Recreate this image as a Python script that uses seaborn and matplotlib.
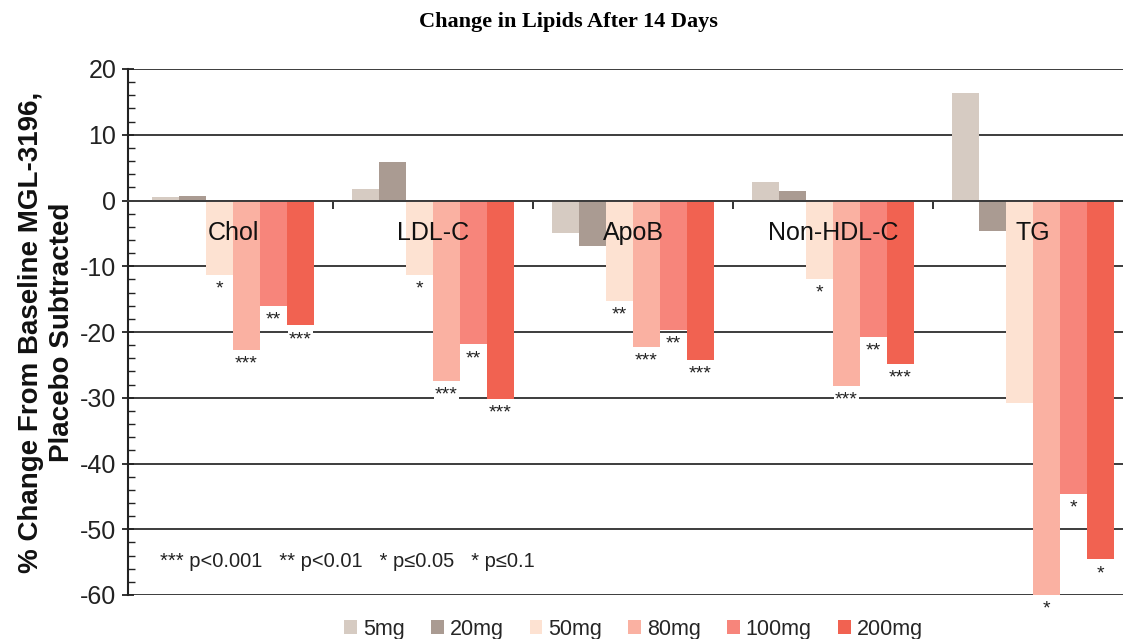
import numpy as np
import pandas as pd
import matplotlib
matplotlib.use("Agg")
import matplotlib.pyplot as plt
import seaborn as sns

# ---- data ----
categories = ["Chol", "LDL-C", "ApoB", "Non-HDL-C", "TG"]
doses = ["5mg", "20mg", "50mg", "80mg", "100mg", "200mg"]
v5 = [0.5, 1.7, -5.0, 2.8, 16.4]
v20 = [0.7, 5.9, -6.9, 1.4, -4.7]
v50 = [-11.3, -11.3, -15.3, -12.0, -30.8]
v80 = [-22.8, -27.5, -22.3, -28.2, -60.0]
v100 = [-16.0, -21.9, -19.7, -20.8, -44.6]
v200 = [-19.0, -30.2, -24.2, -24.9, -54.6]
sig5 = ["", "", "", "", ""]
sig20 = ["", "", "", "", ""]
sig50 = ["*", "*", "**", "*", ""]
sig80 = ["***", "***", "***", "***", "*"]
sig100 = ["**", "**", "**", "**", "*"]
sig200 = ["***", "***", "***", "***", "*"]
colors = ["#d6cbc2", "#aa9b92", "#fde2d2", "#fab1a2", "#f7857b", "#f16251"]
footnote = "*** p<0.001   ** p<0.01   * p\u22640.05   * p\u22640.1"
title = "Change in Lipids After 14 Days"
ylabel = "% Change From Baseline MGL-3196,\nPlacebo Subtracted"

values = [v5, v20, v50, v80, v100, v200]
sigs = [sig5, sig20, sig50, sig80, sig100, sig200]
df = pd.DataFrame({
    "lipid": [c for _ in doses for c in categories],
    "dose": [d for d in doses for _ in categories],
    "value": [v for vals in values for v in vals],
})

sns.set_theme(style="white")
plt.rcParams["font.family"] = ["Liberation Sans", "DejaVu Sans"]
plt.rcParams["axes.unicode_minus"] = False

fig = plt.figure(figsize=(11.23, 6.39), dpi=100)
ax = fig.add_axes([128 / 1123, 44 / 639, 995 / 1123, 526 / 639])

sns.barplot(data=df, x="lipid", y="value", hue="dose", order=categories,
            hue_order=doses, palette=colors, saturation=1, width=0.81,
            linewidth=0, ax=ax, zorder=2)

ax.set_ylim(-60, 20)
ax.set_xlim(-0.525, 4.45)

# grid
ax.set_yticks(np.arange(-60, 21, 10))
ax.set_yticks(np.arange(-60, 21, 2), minor=True)
ax.yaxis.grid(True, which="major", color="#3c3c3c", linewidth=1.4, zorder=0)
ax.set_axisbelow(True)
ax.tick_params(axis="y", which="major", direction="inout", length=9, width=1.3,
               color="#222222", labelsize=18, labelcolor="#222222", pad=4, left=True)
ax.tick_params(axis="y", which="minor", direction="in", length=5, width=1.0,
               color="#222222", left=True)

# x axis: ticks between groups on the zero line
ax.set_xticks(np.arange(len(categories) - 1) + 0.5, labels=[""] * (len(categories) - 1))
ax.tick_params(axis="x", which="major", direction="out", length=6, width=1.3,
               color="#222222", bottom=True)
ax.spines["bottom"].set_position(("data", 0))
ax.spines["bottom"].set_color("#3c3c3c")
ax.spines["bottom"].set_linewidth(1.4)
ax.spines["left"].set_color("#222222")
ax.spines["left"].set_linewidth(1.5)
ax.spines["top"].set_visible(False)
ax.spines["right"].set_visible(False)
ax.set_xlabel("")

ax.set_ylabel(ylabel, fontsize=20, fontweight="bold", linespacing=1.22, color="#111111")
ax.yaxis.set_label_coords(-0.082, 0.5)
ax.yaxis.label.set_va("center")

# group labels
for i, c in enumerate(categories):
    ax.text(i, -5, c, ha="center", va="center", fontsize=18, color="#111111", zorder=5)

# significance stars
for cont, sg in zip(ax.containers, sigs):
    for bar, s in zip(cont, sg):
        if s:
            x = bar.get_x() + bar.get_width() / 2
            y = bar.get_y() + bar.get_height()
            ax.annotate(s, xy=(x, min(y, bar.get_y())), xytext=(0, -4),
                        textcoords="offset points", ha="center", va="top",
                        fontsize=14, color="#222222", annotation_clip=False,
                        bbox=dict(fc="white", ec="none", pad=1.0), zorder=4)

ax.text(-0.365, -54.9, footnote, ha="left", va="center", fontsize=14.5, color="#222222")

# legend
handles, labels = ax.get_legend_handles_labels()
ax.get_legend().remove()
fig.legend(handles, labels, loc="center", bbox_to_anchor=(633.5 / 1123, 1 - 629 / 639),
           ncol=6, frameon=False, fontsize=15.5, handlelength=0.6, handleheight=0.58,
           handletextpad=0.28, columnspacing=1.2, borderpad=0, borderaxespad=0)

fig.text(568 / 1123, 1 - 22 / 639, title, ha="center", va="center", color="black",
         fontsize=16, fontweight="bold", family=["Liberation Serif", "DejaVu Serif"])

fig.savefig("out.png", dpi=100)
